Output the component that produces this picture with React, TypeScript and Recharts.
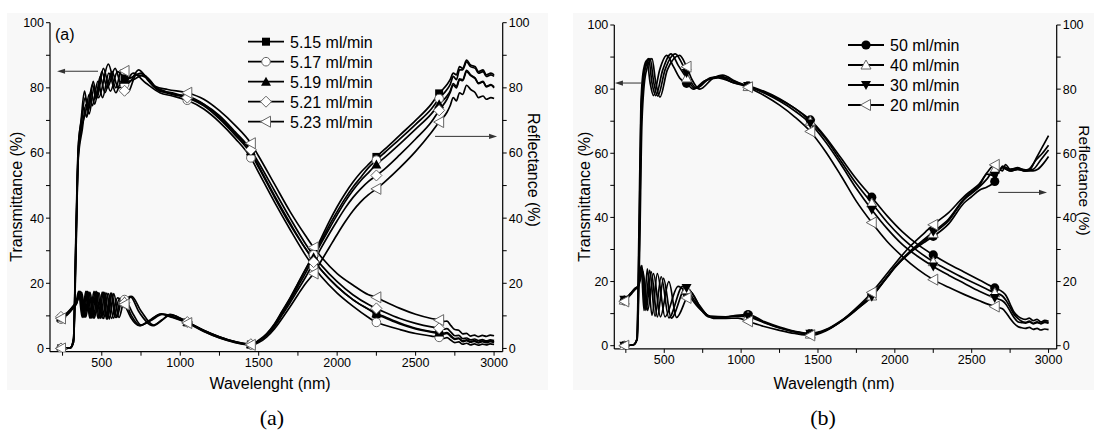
import React from 'react';
import { LineChart, Line, XAxis, YAxis, ReferenceLine } from 'recharts';

type Pt = [number, number];

// ---------- labels / categories ----------
const SERIES_A = ['5.15 ml/min', '5.17 ml/min', '5.19 ml/min', '5.21 ml/min', '5.23 ml/min'];
const SHAPES_A = ['square', 'circle', 'triangle', 'diamond', 'triangleLeft'];
const SERIES_B = ['50 ml/min', '40 ml/min', '30 ml/min', '20 ml/min'];
const SHAPES_B = ['circleFilled', 'triangleOpen', 'triangleDown', 'triangleLeft'];
const MARKER_WL = [240, 645, 1045, 1450, 1850, 2250, 2650];
const X_TICKS = [250, 500, 750, 1000, 1250, 1500, 1750, 2000, 2250, 2500, 2750, 3000];
const Y_TICKS = [0, 10, 20, 30, 40, 50, 60, 70, 80, 90, 100];
const TOP_TICKS = [1, 2, 3, 4, 5, 6, 7, 8, 9];

// ---------- panel (a): transmittance ----------
const A_T_515: Pt[] = [[220,0],[240,0],[300,0.2],[320,3],[335,35],[350,62],[370,70],[395,77],[415,73],[445,82],[470,77],[510,86],[555,79],[600,85],[645,82.9],[670,81.5],[735,85.5],[800,82],[870,79],[950,78.5],[1045,77],[1150,74.5],[1250,70.5],[1350,65.5],[1450,59.8],[1500,55.5],[1600,46.5],[1700,38],[1800,30.5],[1850,27.2],[1900,24],[2000,19],[2100,15],[2200,12],[2250,10.5],[2300,9.5],[2400,7.5],[2500,6],[2600,5],[2650,4.6],[2680,4.4],[2700,4.6],[2725,3.6],[2750,2.8],[2775,3],[2800,2.1],[2825,2.4],[2850,1.9],[2875,2.2],[2900,1.7],[2925,2.1],[2950,1.8],[2975,2.1],[3000,1.8]];
const A_T_517: Pt[] = [[220,0],[240,0],[300,0.2],[320,2.5],[335,32],[350,60],[370,69],[385,74],[405,71],[430,79],[455,75],[490,83.5],[520,78.5],[565,85],[605,80],[645,81],[700,84.5],[780,81.5],[870,78.5],[950,77.5],[1045,76.2],[1150,73.5],[1250,69.5],[1350,64.5],[1450,58.5],[1500,54],[1600,45],[1700,36.5],[1800,28.5],[1850,25],[1900,22],[2000,17],[2100,13],[2200,9.5],[2250,8],[2300,7.2],[2400,5.8],[2500,4.6],[2600,3.8],[2650,3.4],[2680,3.1],[2700,3.3],[2725,2.5],[2750,1.8],[2775,2],[2800,1.3],[2825,1.6],[2850,1.1],[2875,1.4],[2900,1],[2925,1.3],[2950,1.1],[2975,1.4],[3000,1.2]];
const A_T_519: Pt[] = [[220,0],[240,0],[300,0.2],[320,3],[335,33],[350,61],[368,70],[390,79],[410,74],[440,81],[465,76.5],[500,85],[535,80],[585,86],[625,81],[645,82.5],[680,83],[750,84.5],[830,80.5],[900,79],[960,78],[1045,77.5],[1150,75],[1250,71],[1350,66],[1450,60.5],[1500,56],[1600,47],[1700,38.5],[1800,30.5],[1850,27],[1900,24],[2000,19],[2100,15],[2200,12],[2250,10.8],[2300,9.8],[2400,7.8],[2500,6.2],[2600,5.2],[2650,4.9],[2680,4.7],[2700,4.9],[2725,3.9],[2750,3],[2775,3.2],[2800,2.3],[2825,2.6],[2850,2.1],[2875,2.4],[2900,1.9],[2925,2.3],[2950,2],[2975,2.3],[3000,2]];
const A_T_521: Pt[] = [[220,0],[240,0],[300,0.2],[320,2],[335,30],[350,59],[372,68],[395,72],[420,78],[440,74.5],[475,82],[505,77],[545,84.5],[590,78.5],[625,82],[645,79.1],[665,78.5],[720,84],[790,83],[860,79.5],[950,78],[1045,77],[1150,75],[1250,71.5],[1350,66.5],[1450,61],[1500,57],[1600,48.5],[1700,40],[1800,32],[1850,28.5],[1900,25.5],[2000,20.5],[2100,16.5],[2200,13.5],[2250,12.3],[2300,11.2],[2400,9.2],[2500,7.7],[2600,6.6],[2650,6.2],[2680,5.9],[2700,6.1],[2725,5],[2750,3.9],[2775,4],[2800,3],[2825,3.2],[2850,2.6],[2875,2.9],[2900,2.4],[2925,2.7],[2950,2.3],[2975,2.6],[3000,2.4]];
const A_T_523: Pt[] = [[220,0],[240,0],[300,0.2],[320,2],[335,28],[350,58],[375,67],[400,75],[420,72],[450,80],[480,77],[542,87.3],[590,80],[625,85.5],[645,85.2],[665,82],[700,82.5],[765,84],[840,80.5],[920,79.5],[1045,78.5],[1150,76.5],[1250,73],[1350,68.5],[1450,63],[1500,59],[1600,50.5],[1700,42],[1800,34.5],[1850,31],[1900,28],[2000,23],[2100,19.5],[2200,16.5],[2250,15.7],[2300,14.5],[2400,12.3],[2500,10.5],[2600,9.2],[2650,8.7],[2680,8.3],[2700,8.4],[2725,7],[2750,5.8],[2775,5.6],[2800,4.5],[2825,4.6],[2850,3.8],[2875,4.1],[2900,3.6],[2925,4],[2950,3.7],[2975,4.1],[3000,3.9]];

// ---------- panel (a): reflectance ----------
const A_R_515: Pt[] = [[220,8.8],[240,9.2],[280,10.5],[320,12.8],[340,14],[357,17.5],[380,9.5],[404,17.5],[430,9.3],[457,17.5],[483,9.2],[510,17.3],[537,9],[563,17],[595,9.5],[630,15],[645,14.5],[690,10],[745,7],[800,8.5],[880,10.6],[950,9.8],[1045,8],[1150,5.5],[1250,3.5],[1350,2],[1450,1.2],[1500,2.5],[1550,4.5],[1600,7.5],[1650,11.5],[1700,15.5],[1750,20],[1800,24.5],[1850,29],[1900,34],[1950,39],[2000,43.5],[2050,47.5],[2100,51],[2150,54],[2200,56.5],[2250,58.8],[2300,61],[2400,65.5],[2500,70],[2600,75],[2650,78.3],[2700,81],[2720,82.5],[2740,84.5],[2760,84],[2780,86.5],[2800,86],[2825,88.5],[2850,87],[2880,86.5],[2900,85],[2930,85.5],[2950,84],[2980,84.5],[3000,84]];
const A_R_517: Pt[] = [[220,8.5],[240,9],[280,10.3],[320,12.5],[340,13.8],[362,17.5],[386,9.5],[410,17.5],[437,9.3],[465,17.5],[492,9.2],[520,17.2],[548,9],[576,16.8],[610,9.5],[645,15],[700,10.5],[750,7.2],[810,8.5],[890,10.5],[960,9.5],[1045,8],[1150,5.3],[1250,3.3],[1350,1.9],[1450,1.1],[1500,2.3],[1550,4.3],[1600,7.3],[1650,11.3],[1700,15.3],[1750,19.8],[1800,24.3],[1850,28.8],[1900,33.2],[1950,37.8],[2000,42],[2050,46],[2100,49.5],[2150,52.5],[2200,55.5],[2250,57.8],[2300,60],[2400,64.3],[2500,68.8],[2600,73.5],[2650,76.7],[2700,79.5],[2720,81],[2740,83.5],[2760,82.5],[2780,85.5],[2800,85.5],[2825,88],[2850,86.5],[2880,86],[2900,84.5],[2930,85],[2950,83.5],[2980,84],[3000,83.5]];
const A_R_519: Pt[] = [[220,9],[240,9.5],[280,10.8],[320,13],[340,14.2],[366,17.3],[392,9.6],[418,17.3],[446,9.3],[474,17.2],[503,9.2],[532,17],[562,9.2],[600,15.5],[645,14.5],[680,16],[740,11],[826,7],[880,8.5],[935,10.5],[990,9.5],[1045,8.2],[1150,5.5],[1250,3.5],[1350,2],[1450,1.3],[1500,2.3],[1550,4.2],[1600,7],[1650,10.8],[1700,14.7],[1750,19],[1800,23.3],[1850,28],[1900,32.5],[1950,36.8],[2000,41],[2050,45],[2100,48.5],[2150,51.5],[2200,54],[2250,56.5],[2300,58.5],[2400,62.8],[2500,67.3],[2600,72],[2650,75],[2700,77.5],[2720,79],[2740,81.3],[2760,80.5],[2780,82.8],[2800,82.5],[2825,85.4],[2850,84],[2880,83],[2900,81.5],[2930,82],[2950,80.5],[2980,81],[3000,80.3]];
const A_R_521: Pt[] = [[220,9.2],[240,9.7],[280,11],[320,13.2],[340,14.5],[372,17.2],[398,9.6],[425,17.2],[453,9.3],[482,17.1],[512,9.2],[542,16.8],[575,9.3],[610,15],[645,14],[690,16],[750,11.5],[830,7.2],[885,8.8],[940,10.3],[1000,9.3],[1045,8.1],[1150,5.6],[1250,3.6],[1350,2.1],[1450,1.3],[1500,2.2],[1550,4],[1600,6.7],[1650,10.3],[1700,14],[1750,18],[1800,22],[1850,26.5],[1900,31],[1950,35.2],[2000,39.2],[2050,43],[2100,46.3],[2150,49],[2200,51.3],[2250,53.1],[2300,55],[2400,59.5],[2500,64.3],[2600,69.5],[2650,73.1],[2700,76.5],[2720,78.5],[2740,80.8],[2760,80],[2780,82.5],[2800,82.2],[2825,85],[2850,83.8],[2880,82.8],[2900,81.3],[2930,81.8],[2950,80.3],[2980,80.8],[3000,80]];
const A_R_523: Pt[] = [[220,8.8],[240,9.2],[280,10.5],[320,12.8],[336,14],[352,17.5],[375,9.5],[398,17.5],[424,9.3],[450,17.5],[476,9.2],[503,17.3],[530,9],[557,17],[588,9.5],[622,15],[645,13.5],[685,9.5],[740,7],[800,8.3],[875,10.5],[950,9.5],[1045,7.8],[1150,5.2],[1250,3.2],[1350,1.8],[1450,1.1],[1500,1.8],[1550,3.5],[1600,6],[1650,9.3],[1700,12.8],[1750,16.5],[1800,20],[1850,23],[1900,27],[1950,31],[2000,35],[2050,38.8],[2100,42.2],[2150,45],[2200,47.2],[2250,49],[2300,51],[2400,55.5],[2500,60.5],[2600,66.3],[2650,69.5],[2700,72.5],[2720,74.5],[2740,77],[2760,76],[2780,78.5],[2800,78],[2825,80.8],[2850,79.5],[2880,78.5],[2900,77],[2930,77.5],[2950,76.5],[2980,77],[3000,76.7]];

// ---------- panel (b): transmittance ----------
const B_T_50: Pt[] = [[225,0],[240,0],[300,0.3],[322,2],[335,35],[348,75],[365,86],[387,89],[408,82],[430,78],[470,86],[516,90.5],[560,87],[600,83.5],[645,81.8],[690,80],[760,82.5],[850,83.5],[950,82],[1045,81],[1150,79.3],[1250,77],[1350,74],[1450,70.4],[1550,65],[1650,58.5],[1750,52],[1850,46.3],[1950,40.5],[2050,35.5],[2150,31.5],[2250,28.3],[2350,25.5],[2450,23],[2550,20.5],[2650,18],[2700,16.8],[2725,15.5],[2750,13],[2775,10.5],[2800,9.2],[2825,8.5],[2850,8.2],[2875,8.6],[2900,7.8],[2925,8.2],[2950,7.4],[2975,7.9],[3000,7.6]];
const B_T_40: Pt[] = [[225,0],[240,0],[300,0.3],[322,2],[337,35],[350,74],[370,86],[398,89.5],[420,82],[445,78],[490,86],[545,91],[590,87.5],[645,83.5],[700,80.2],[780,83],[860,83.8],[950,82],[1045,80.8],[1150,79],[1250,76.8],[1350,74],[1450,70],[1550,64.5],[1650,57.5],[1750,50.5],[1850,44.5],[1950,38.5],[2050,33.5],[2150,29.5],[2250,26.2],[2350,23.5],[2450,21],[2550,18.8],[2650,16.5],[2700,15.5],[2725,14],[2750,12],[2775,9.8],[2800,8.5],[2825,7.6],[2850,7.3],[2875,7.7],[2900,7],[2925,7.4],[2950,6.8],[2975,7.3],[3000,7]];
const B_T_30: Pt[] = [[225,0],[240,0],[300,0.3],[323,2],[338,32],[352,72],[375,86],[408,89.5],[432,82],[458,77.8],[505,86],[572,91],[610,88.5],[645,85],[710,80.3],[800,83.5],[870,84],[950,82.5],[1045,81],[1150,78.8],[1250,76.3],[1350,73.2],[1450,69.3],[1550,63.5],[1650,56.5],[1750,49],[1850,42.4],[1950,36.5],[2050,31.5],[2150,27.8],[2250,24.7],[2350,22],[2450,19.5],[2550,17],[2650,14.9],[2700,14],[2725,12.8],[2750,10.8],[2775,8.8],[2800,7.5],[2825,7.2],[2850,7],[2875,7.4],[2900,6.8],[2925,7.2],[2950,7],[2975,7.4],[3000,7.2]];
const B_T_20: Pt[] = [[225,0],[240,0],[300,0.3],[324,2],[340,30],[355,70],[380,85],[420,89.5],[445,82],[472,77.5],[520,86],[600,90.5],[645,87],[680,83],[730,80],[820,83.5],[880,84.4],[960,82.5],[1045,80.6],[1150,78],[1250,75],[1350,71.3],[1450,66.8],[1550,60.5],[1650,53],[1750,45],[1850,38.4],[1950,32.5],[2050,27.8],[2150,23.8],[2250,20.6],[2350,18.2],[2450,16],[2550,14],[2650,12.2],[2700,11.5],[2725,10.2],[2750,8.5],[2775,7],[2800,6],[2825,5.6],[2850,5.4],[2875,5.7],[2900,5.1],[2925,5.4],[2950,4.9],[2975,5.2],[3000,5]];

// ---------- panel (b): reflectance ----------
const B_R_50: Pt[] = [[225,13.5],[240,14],[280,16],[310,17.8],[330,18.5],[350,25],[368,11],[390,24],[420,9.5],[455,22.5],[505,9],[590,18.5],[645,16.5],[720,12],[800,9.2],[900,9],[970,9.5],[1045,9.7],[1150,7.5],[1250,5.8],[1350,4.5],[1450,3.8],[1550,5],[1650,7.8],[1750,11.5],[1850,15.8],[1950,21.5],[2000,24.5],[2100,29],[2200,32.5],[2250,34.1],[2350,38],[2450,44.5],[2500,46.5],[2550,48.5],[2600,49.5],[2650,51.2],[2680,55],[2700,54.5],[2720,56.5],[2750,55],[2800,55.5],[2850,54.5],[2880,55],[2920,58.5],[2960,62],[3000,65.5]];
const B_R_40: Pt[] = [[225,13.8],[240,14.2],[280,16.2],[310,17.8],[330,18.5],[355,25],[375,11],[405,23.5],[440,9.2],[480,21.5],[530,8.7],[620,18.5],[645,17.5],[720,12.5],[790,9],[900,9],[980,9.3],[1045,9.2],[1150,7.3],[1250,5.6],[1350,4.3],[1450,3.6],[1550,4.8],[1650,7.5],[1750,11.2],[1850,15.5],[1950,21.3],[2000,24.3],[2100,29.2],[2200,33],[2250,35],[2350,39],[2450,45.5],[2500,47.5],[2550,49.5],[2600,52],[2650,55],[2680,54.5],[2700,56],[2750,55],[2800,55.3],[2850,54.8],[2870,55],[2920,58],[2960,60],[3000,62.5]];
const B_R_30: Pt[] = [[225,14],[240,14.3],[280,16.3],[310,17.9],[330,18.6],[358,24],[382,11.2],[415,23],[455,9],[495,21],[545,8.6],[640,18],[645,18],[730,12.5],[800,9],[900,9],[980,9.2],[1045,9],[1150,7.2],[1250,5.5],[1350,4.3],[1450,3.7],[1550,4.8],[1650,7.6],[1750,11.3],[1850,15.3],[1950,21.5],[2000,24.6],[2100,29.5],[2200,33.5],[2250,35.5],[2350,39.5],[2450,45.8],[2500,48],[2550,50],[2600,53.5],[2650,53],[2700,55.5],[2750,54.5],[2800,55],[2850,54.5],[2900,55],[2950,58],[3000,61]];
const B_R_20: Pt[] = [[225,13.3],[240,13.8],[280,15.8],[310,17.5],[330,18.3],[362,23],[392,11],[430,22.5],[475,9],[530,20],[580,8.8],[645,14.9],[668,16.9],[740,11.5],[820,8.5],[900,8.5],[980,8.6],[1045,7.6],[1150,6],[1250,4.8],[1350,3.8],[1450,3.2],[1550,4.6],[1650,7.6],[1750,11.8],[1850,16.6],[1950,22.5],[2000,25.5],[2100,31],[2200,35.5],[2250,37.7],[2350,41.5],[2450,46.5],[2500,48.5],[2550,50.5],[2600,54],[2650,56.4],[2680,55],[2700,55.5],[2750,54.5],[2800,55],[2850,54.5],[2900,54.5],[2930,55],[2970,57],[3000,59]];

const A_T = [A_T_515, A_T_517, A_T_519, A_T_521, A_T_523];
const A_R = [A_R_515, A_R_517, A_R_519, A_R_521, A_R_523];
const B_T = [B_T_50, B_T_40, B_T_30, B_T_20];
const B_R = [B_R_50, B_R_40, B_R_30, B_R_20];

const FONT = '"Liberation Sans", Arial, sans-serif';
const toData = (pts: Pt[]) => pts.map(([wl, v]) => ({ wl, v }));

function Marker({ shape, cx, cy }: { shape: string; cx: number; cy: number }) {
  const g = '#666';
  switch (shape) {
    case 'square':
      return <rect x={cx - 4} y={cy - 4} width={8} height={8} fill="#000" />;
    case 'circle':
      return <circle cx={cx} cy={cy} r={4.3} fill="#fff" stroke={g} strokeWidth={1} />;
    case 'circleFilled':
      return <circle cx={cx} cy={cy} r={4.6} fill="#000" />;
    case 'triangle':
      return <polygon points={`${cx},${cy - 5} ${cx - 5},${cy + 4} ${cx + 5},${cy + 4}`} fill="#000" />;
    case 'triangleOpen':
      return <polygon points={`${cx},${cy - 5} ${cx - 5},${cy + 4} ${cx + 5},${cy + 4}`} fill="#fff" stroke={g} strokeWidth={1} />;
    case 'triangleDown':
      return <polygon points={`${cx},${cy + 5} ${cx - 5},${cy - 4} ${cx + 5},${cy - 4}`} fill="#000" />;
    case 'diamond':
      return <polygon points={`${cx},${cy - 5.5} ${cx + 5.5},${cy} ${cx},${cy + 5.5} ${cx - 5.5},${cy}`} fill="#fff" stroke={g} strokeWidth={1} />;
    case 'triangleLeft':
      return <polygon points={`${cx - 5.5},${cy} ${cx + 4.5},${cy - 5.5} ${cx + 4.5},${cy + 5.5}`} fill="#fff" stroke={g} strokeWidth={1} />;
    default:
      return null;
  }
}

const makeDot = (shape: string) => (props: any) => {
  const { cx, cy, payload, index } = props;
  if (cx == null || cy == null || !payload || !MARKER_WL.includes(payload.wl)) return <g key={`e${index}`} />;
  return (
    <g key={`m${index}`}>
      <Marker shape={shape} cx={cx} cy={cy} />
    </g>
  );
};

const Arrow = (p: any) => {
  const { x1, y1, x2, y2 } = p;
  if ([x1, y1, x2, y2].some((v) => v == null || isNaN(v))) return <g />;
  const dx = x2 - x1;
  const dy = y2 - y1;
  const len = Math.sqrt(dx * dx + dy * dy) || 1;
  const ux = dx / len;
  const uy = dy / len;
  const hl = 8;
  const hw = 2.6;
  const bx = x2 - ux * hl;
  const by = y2 - uy * hl;
  return (
    <g>
      <line x1={x1} y1={y1} x2={bx} y2={by} stroke="#333" strokeWidth={1} />
      <polygon points={`${x2},${y2} ${bx - uy * hw},${by + ux * hw} ${bx + uy * hw},${by - ux * hw}`} fill="#333" />
    </g>
  );
};

const xFmt = (v: number) => (v % 500 === 0 ? String(v) : '');
const yFmt = (v: number) => (v % 20 === 0 ? String(v) : '');
const tickStyle = { fontSize: 12.5, fill: '#000', fontFamily: FONT };
const axisLine = { stroke: '#000', strokeWidth: 1.2 };

function Legend({ x, y, names, shapes, gap }: { x: number; y: number; names: string[]; shapes: string[]; gap: number }) {
  return (
    <g>
      {names.map((n, i) => {
        const yy = y + i * gap;
        return (
          <g key={n}>
            <line x1={x} y1={yy} x2={x + 36} y2={yy} stroke="#000" strokeWidth={1.8} />
            <Marker shape={shapes[i]} cx={x + 18} cy={yy} />
            <text x={x + 42} y={yy + 5.8} fontSize={16} fontFamily={FONT} fill="#000">
              {n}
            </text>
          </g>
        );
      })}
    </g>
  );
}

function Panel(props: {
  width: number;
  margin: { top: number; right: number; left: number; bottom: number };
  xDomain: [number, number];
  topDomain: [number, number];
  T: Pt[][];
  R: Pt[][];
  shapes: string[];
  arrowL: [Pt, Pt];
  arrowR: [Pt, Pt];
  rightWidth: number;
}) {
  const { width, margin, xDomain, topDomain, T, R, shapes, arrowL, arrowR, rightWidth } = props;
  return (
    <LineChart width={width} height={400} margin={margin}>
      <XAxis
        xAxisId="x"
        type="number"
        dataKey="wl"
        domain={xDomain}
        allowDataOverflow
        ticks={X_TICKS}
        tickFormatter={xFmt}
        tick={tickStyle}
        tickSize={4}
        tickMargin={2}
        axisLine={axisLine}
        tickLine={{ stroke: '#000' }}
        height={30}
        interval={0}
      />
      <XAxis
        xAxisId="top"
        orientation="top"
        type="number"
        domain={topDomain}
        allowDataOverflow
        ticks={TOP_TICKS}
        tickFormatter={() => ''}
        mirror
        tickSize={4}
        axisLine={axisLine}
        tickLine={{ stroke: '#000' }}
        height={0}
      />
      <YAxis
        yAxisId="L"
        type="number"
        domain={[-1, 100]}
        allowDataOverflow
        ticks={Y_TICKS}
        tickFormatter={yFmt}
        tick={tickStyle}
        tickSize={4}
        tickMargin={2}
        axisLine={axisLine}
        tickLine={{ stroke: '#000' }}
        width={42}
        interval={0}
      />
      <YAxis
        yAxisId="R"
        orientation="right"
        type="number"
        domain={[-1, 100]}
        allowDataOverflow
        ticks={Y_TICKS}
        tickFormatter={yFmt}
        tick={tickStyle}
        tickSize={4}
        tickMargin={2}
        axisLine={axisLine}
        tickLine={{ stroke: '#000' }}
        width={rightWidth}
        interval={0}
      />
      {T.map((pts, i) => (
        <Line
          key={`t${i}`}
          xAxisId="x"
          yAxisId="L"
          data={toData(pts)}
          dataKey="v"
          type="monotone"
          stroke="#000"
          strokeWidth={1.7}
          dot={makeDot(shapes[i])}
          activeDot={false}
          isAnimationActive={false}
        />
      ))}
      {R.map((pts, i) => (
        <Line
          key={`r${i}`}
          xAxisId="x"
          yAxisId="R"
          data={toData(pts)}
          dataKey="v"
          type="monotone"
          stroke="#000"
          strokeWidth={1.7}
          dot={makeDot(shapes[i])}
          activeDot={false}
          isAnimationActive={false}
        />
      ))}
      <ReferenceLine
        xAxisId="x"
        yAxisId="L"
        segment={[{ x: arrowL[0][0], y: arrowL[0][1] }, { x: arrowL[1][0], y: arrowL[1][1] }]}
        shape={Arrow}
        ifOverflow="visible"
      />
      <ReferenceLine
        xAxisId="x"
        yAxisId="R"
        segment={[{ x: arrowR[0][0], y: arrowR[0][1] }, { x: arrowR[1][0], y: arrowR[1][1] }]}
        shape={Arrow}
        ifOverflow="visible"
      />
    </LineChart>
  );
}

const ARROW_A_L: [Pt, Pt] = [[476, 85.1], [215, 85.1]];
const ARROW_A_R: [Pt, Pt] = [[2624, 65.1], [3019, 65.1]];
const ARROW_B_L: [Pt, Pt] = [[353, 81.9], [179, 81.9]];
const ARROW_B_R: [Pt, Pt] = [[2673, 47.8], [2990, 47.8]];

export default function App() {
  return (
    <div style={{ position: 'absolute', left: 0, top: 0, width: 1094, height: 447, background: '#fff', overflow: 'hidden' }}>
      <div style={{ position: 'absolute', left: 7, top: 13, width: 541, height: 377, background: '#f8f8f8' }} />
      <div style={{ position: 'absolute', left: 573, top: 13, width: 521, height: 377, background: '#f8f8f8' }} />
      <div style={{ position: 'absolute', left: 0, top: 0 }}>
        <Panel
          width={550}
          margin={{ top: 22.7, right: 7.3, left: 8, bottom: 18.3 }}
          xDomain={[170, 3055]}
          topDomain={[-0.066, 10]}
          T={A_T}
          R={A_R}
          shapes={SHAPES_A}
          arrowL={ARROW_A_L}
          arrowR={ARROW_A_R}
          rightWidth={40}
        />
      </div>
      <div style={{ position: 'absolute', left: 560, top: 0 }}>
        <Panel
          width={534}
          margin={{ top: 25, right: 7.3, left: 12.3, bottom: 21.1 }}
          xDomain={[175, 3053]}
          topDomain={[0, 10]}
          T={B_T}
          R={B_R}
          shapes={SHAPES_B}
          arrowL={ARROW_B_L}
          arrowR={ARROW_B_R}
          rightWidth={30}
        />
      </div>
      <svg width={1094} height={447} style={{ position: 'absolute', left: 0, top: 0, pointerEvents: 'none' }}>
        <Legend x={248} y={41.7} names={SERIES_A} shapes={SHAPES_A} gap={20} />
        <Legend x={848} y={45} names={SERIES_B} shapes={SHAPES_B} gap={20} />
        <text x={55} y={40} fontSize={16} fontFamily={FONT} fill="#000">(a)</text>
        <text x={17} y={196.7} fontSize={16} fontFamily={FONT} fill="#000" textAnchor="middle" dominantBaseline="central" transform="rotate(-90 17 196.7)">Transmittance (%)</text>
        <text x={533} y={170} fontSize={16} fontFamily={FONT} fill="#000" textAnchor="middle" dominantBaseline="central" transform="rotate(90 533 170)">Reflectance (%)</text>
        <text x={270} y={383} fontSize={16} fontFamily={FONT} fill="#000" textAnchor="middle" dominantBaseline="central">Wavelenght (nm)</text>
        <text x={585} y={196.7} fontSize={16} fontFamily={FONT} fill="#000" textAnchor="middle" dominantBaseline="central" transform="rotate(-90 585 196.7)">Transmittance (%)</text>
        <text x={1084} y={180.5} fontSize={15.5} fontFamily={FONT} fill="#000" textAnchor="middle" dominantBaseline="central" transform="rotate(90 1084 180.5)">Reflectance (%)</text>
        <text x={834} y={383} fontSize={16} fontFamily={FONT} fill="#000" textAnchor="middle" dominantBaseline="central">Wavelength (nm)</text>
        <text x={272} y={425} fontSize={22} fontFamily='"Liberation Serif", "Times New Roman", serif' fill="#000" textAnchor="middle">(a)</text>
        <text x={823} y={425} fontSize={22} fontFamily='"Liberation Serif", "Times New Roman", serif' fill="#000" textAnchor="middle">(b)</text>
      </svg>
    </div>
  );
}
